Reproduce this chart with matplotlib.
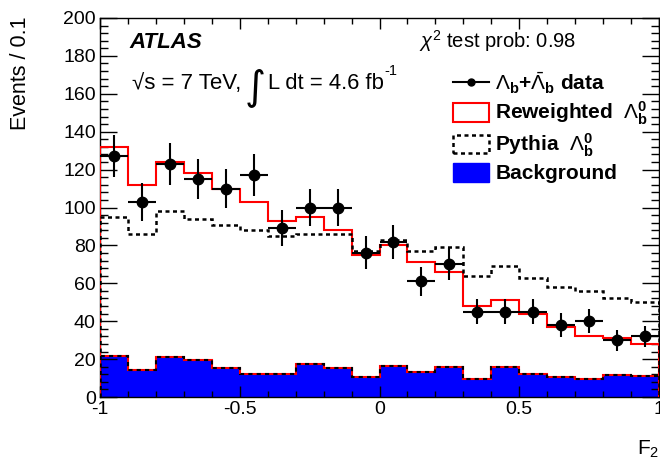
import numpy as np
import matplotlib
matplotlib.use("Agg")
import matplotlib.pyplot as plt
from matplotlib.lines import Line2D
from matplotlib.patches import Patch
from matplotlib.ticker import MultipleLocator

plt.rcParams['font.family'] = ['Liberation Sans', 'DejaVu Sans']
plt.rcParams['mathtext.fontset'] = 'custom'
plt.rcParams['mathtext.rm'] = 'Liberation Sans'
plt.rcParams['mathtext.it'] = 'Liberation Sans:italic'
plt.rcParams['mathtext.bf'] = 'Liberation Sans:bold'

# ---- data ----
bin_edges = np.round(np.arange(-1.0, 1.0001, 0.1), 2)
data_counts = [127, 103, 123, 115, 110, 117, 89, 100, 100, 76,
               82, 61, 70, 45, 45, 45, 38, 40, 30, 32]
data_errors = [11, 10, 11, 10.5, 10.5, 11, 9.5, 10, 10, 8.7,
               9, 7.8, 8.4, 6.7, 6.7, 6.7, 6.2, 6.3, 5.5, 5.7]
reweighted = [132, 112, 124, 118, 110, 103, 93, 95, 88, 75,
              80, 71, 66, 48, 51, 44, 37, 32, 31, 28]
pythia = [95, 86, 98, 94, 91, 88, 85, 86, 86, 77,
          83, 77, 79, 64, 69, 63, 58, 56, 52, 50]
background = [21.5, 14.2, 21, 19.3, 15.4, 12.4, 12.4, 17.2, 15.1, 10.7,
              16.5, 13.3, 15.6, 9.4, 15.6, 12.1, 10.7, 9.4, 11.5, 11.2]
x_ticks = [-1, -0.5, 0, 0.5, 1]
x_ticklabels = ['-1', '-0.5', '0', '0.5', '1']
y_ticks = [0, 20, 40, 60, 80, 100, 120, 140, 160, 180, 200]

W, H = 660, 468
fig = plt.figure(figsize=(W / 100, H / 100), dpi=100)
ax = fig.add_axes([100 / W, 1 - 397 / H, 559 / W, 379 / H])

centers = 0.5 * (bin_edges[:-1] + bin_edges[1:])
half_w = 0.5 * np.diff(bin_edges)

ax.stairs(background, bin_edges, fill=True, color='#0000ff', zorder=1)
ax.stairs(background, bin_edges, color='red', lw=1.5, zorder=2)
ax.stairs(background, bin_edges, color='black', lw=1.5, ls=(0, (2, 2)), zorder=3)
ax.stairs(reweighted, bin_edges, color='red', lw=1.5, zorder=4)
ax.stairs(pythia, bin_edges, color='black', lw=1.8, ls=(0, (1.6, 1.4)), zorder=5)
ax.errorbar(centers, data_counts, xerr=half_w, yerr=data_errors, fmt='o',
            color='black', ms=7.5, lw=1.5, capsize=0, zorder=6)

ax.set_xlim(-1, 1)
ax.set_ylim(0, 200)
ax.set_xticks(x_ticks)
ax.set_xticklabels(x_ticklabels)
ax.set_yticks(y_ticks)
ax.xaxis.set_minor_locator(MultipleLocator(0.1))
ax.yaxis.set_minor_locator(MultipleLocator(4))
ax.tick_params(which='both', direction='in', top=True, right=True, width=1)
ax.tick_params(axis='x', which='major', length=8, pad=3, labelsize=14)
ax.tick_params(axis='x', which='minor', length=4)
ax.tick_params(axis='y', which='major', length=12, pad=3, labelsize=14)
ax.tick_params(axis='y', which='minor', length=6)
for s in ax.spines.values():
    s.set_linewidth(1.0)

fig.text(21 / W, 1 - 16 / H, 'Events / 0.1', rotation=90, ha='center', va='top', fontsize=15.5)
fig.text(1 - 1 / W, 1 - 455 / H, 'F$_2$', ha='right', va='baseline', fontsize=15)

fig.text(129 / W, 1 - 48 / H, 'ATLAS', fontsize=16, weight='bold', style='italic', va='baseline')
fig.text(419 / W, 1 - 48 / H, r'$\chi^2$ test prob: 0.98', fontsize=14.5, va='baseline')
fig.text(132 / W, 1 - 89 / H, '\u221As = 7 TeV,', fontsize=16, va='baseline')
fig.text(245 / W, 1 - 98 / H, '\u222B', fontsize=29, va='baseline', family='DejaVu Sans')
fig.text(268 / W, 1 - 89 / H, 'L dt = 4.6 fb', fontsize=15.8, va='baseline')
fig.text(384 / W, 1 - 75 / H, '-1', fontsize=10.5, va='baseline')

handles = [
    Line2D([0], [0], color='black', marker='o', ms=5, lw=1.5),
    Patch(facecolor='white', edgecolor='red', lw=1.5),
    Patch(facecolor='white', edgecolor='black', lw=1.8, ls=(0, (1.6, 1.4))),
    Patch(facecolor='#0000ff', edgecolor='#0000ff'),
]
labels = [
    r'$\Lambda_{\mathbf{b}}$+$\bar{\Lambda}_{\mathbf{b}}$ data',
    r'Reweighted  $\Lambda_{\mathbf{b}}^{\mathbf{0}}$',
    r'Pythia  $\Lambda_{\mathbf{b}}^{\mathbf{0}}$',
    'Background',
]
leg = fig.legend(handles, labels, loc='upper left', bbox_to_anchor=(453 / W, 1 - 70.5 / H),
                 frameon=False, borderpad=0, borderaxespad=0, handlelength=1.73,
                 handleheight=1.0, handletextpad=0.3, labelspacing=0.2,
                 prop={'size': 15, 'weight': 'bold'})

fig.savefig('out.png', dpi=100)
